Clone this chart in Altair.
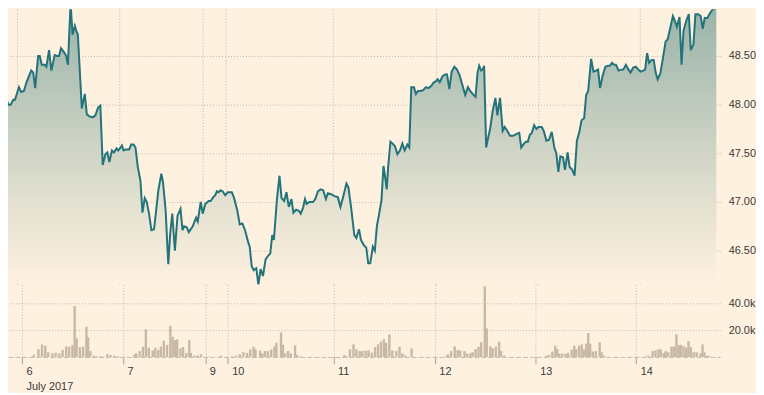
import json
import altair as alt
import pandas as pd

# ---------------- data (time axis in trading hours from chart start) ----------------
price_t = [0, 0.78, 1.40, 1.94, 2.49, 3.11, 3.50, 4.43, 4.97, 5.59, 6.21, 7.30, 7.77, 8.23, 8.93,
           9.32, 9.79, 10.49, 10.87, 11.50, 12.04, 12.82, 13.36, 13.83, 14.29, 15.15, 15.53, 15.92,
           16.54, 17.01, 17.55, 17.86, 18.25, 19.18, 19.88, 20.35, 20.97, 21.75, 22.37, 22.99, 23.53,
           24.08, 24.70, 25.17, 25.63, 26.25, 26.72, 27.34, 27.73, 28.12, 28.58, 28.97, 29.51, 30.29,
           30.76, 31.30, 31.77, 32.31, 32.93, 33.40, 33.94, 34.41, 34.95, 35.50, 36.12, 37.13, 37.83,
           38.21, 38.83, 39.46, 39.92, 40.39, 41.01, 41.63, 42.33, 42.80, 43.18, 43.81, 44.27,
           45.20, 45.98, 46.37, 47.07, 47.53, 48.15, 48.93, 49.40, 50.02, 50.48, 50.87, 51.26, 51.73,
           52.19, 52.81, 53.43, 54.37, 54.83, 55.61, 56.23, 56.85, 57.47, 58.25, 58.56, 59.03, 59.49,
           60.11, 60.58, 61.12, 61.67, 62.29, 62.91, 63.38, 63.84, 64.23, 64.93, 65.55, 66.02, 66.64,
           67.18, 67.73, 68.35, 68.81, 69.44, 70.06, 70.52, 71.07, 71.53, 71.92, 72.54, 73.40, 73.94,
           74.56, 75.18, 75.80, 76.43, 76.89, 77.67, 78.45, 79.22, 79.84, 80.46, 81.24, 81.71, 82.33,
           83.10, 83.57, 84.19, 84.66, 85.28, 85.90, 86.37, 86.83, 87.45, 87.92, 88.38, 88.93, 89.47,
           89.94, 90.25, 90.71, 91.03, 91.57, 92.11, 92.66, 93.20, 93.82, 94.37, 94.91, 95.53, 95.99,
           96.46, 97.08, 97.55, 98.02, 98.64, 99.26, 99.88, 100.50, 101.12, 101.74, 102.21, 102.68,
           103.14, 103.76, 104.38, 104.85, 105.39, 105.94, 106.56, 107.18, 107.80, 108.58, 109.12,
           109.74, 110.44, 111.07, 111.53, 112.00, 112.39, 112.85, 113.24, 113.55, 114.02, 114.48,
           114.95, 115.57, 116.19, 116.66, 117.28, 117.90, 118.37, 118.99, 119.61, 120.39, 121.16,
           121.78, 122.25, 122.72, 123.34, 123.80, 124.27, 124.74, 125.28, 125.82, 126.29, 127.07,
           127.53, 128.15, 128.77, 129.40, 130.02, 130.48, 130.96, 131.42, 132.04, 132.51, 133.13,
           133.60, 134.22, 134.76, 135.31, 135.93, 136.39, 137.01, 137.48, 137.95, 138.65, 139.19,
           139.81, 140.28, 140.74, 141.36, 141.98, 142.61, 143.07, 143.54, 144.01, 144.47, 145.09,
           145.71, 146.18, 146.80, 147.42, 147.89, 148.51, 149.13, 149.75, 150.22, 150.84, 151.31,
           151.77, 152.24, 152.86, 153.33, 153.79, 154.26, 154.88, 155.50, 156.12, 156.59, 157.21,
           157.83, 158.30, 158.76, 159.38, 159.85, 160.32, 160.94, 161.56, 162.02, 162.65, 163.11,
           163.73, 164.35, 164.82, 165.29, 165.91, 166.38, 167.00, 167.62, 168.01]

price_v = [48.24, 48.23, 48.07, 48.00, 48.00, 48.05, 48.05, 48.18, 48.13, 48.14, 48.23, 48.35, 48.33, 48.17, 48.50,
           48.50, 48.41, 48.41, 48.39, 48.56, 48.35, 48.51, 48.50, 48.50, 48.58, 48.53, 48.50, 48.41,
           49.04, 48.72, 48.81, 48.76, 48.72, 47.96, 48.11, 47.90, 47.88, 47.87, 47.89, 47.97, 47.99,
           47.38, 47.49, 47.51, 47.41, 47.53, 47.51, 47.55, 47.53, 47.55, 47.58, 47.53, 47.54, 47.54,
           47.59, 47.59, 47.56, 47.36, 47.22, 46.89, 47.04, 47.00, 46.88, 46.71, 46.72, 47.12, 47.29,
           47.21, 46.92, 46.36, 46.68, 46.88, 46.50, 46.86, 46.93, 46.71, 46.75, 46.74, 46.69,
           46.75, 46.84, 46.80, 47.00, 46.88, 46.98, 47.01, 47.01, 47.05, 47.07, 47.11, 47.10, 47.12,
           47.11, 47.07, 47.10, 47.10, 47.05, 46.92, 46.77, 46.78, 46.71, 46.58, 46.54, 46.34, 46.30,
           46.32, 46.15, 46.31, 46.24, 46.41, 46.45, 46.47, 46.66, 46.61, 47.02, 47.27, 47.04, 47.01,
           47.10, 46.95, 47.03, 46.89, 46.92, 46.91, 46.88, 46.94, 47.03, 46.98, 47.00, 47.00, 47.03,
           47.11, 47.13, 47.12, 47.03, 47.09, 47.08, 47.06, 47.05, 46.95, 47.05, 47.19, 47.15, 46.95,
           46.66, 46.63, 46.72, 46.61, 46.56, 46.53, 46.37, 46.37, 46.54, 46.50, 46.75, 46.88, 47.02,
           47.37, 47.28, 47.13, 47.36, 47.62, 47.60, 47.57, 47.49, 47.53, 47.60, 47.53, 47.59, 47.56,
           48.18, 48.18, 48.11, 48.14, 48.14, 48.15, 48.18, 48.17, 48.19, 48.23, 48.24, 48.26,
           48.23, 48.29, 48.31, 48.31, 48.16, 48.34, 48.39, 48.36, 48.30, 48.18, 48.10,
           48.18, 48.13, 48.10, 48.08, 48.33, 48.40, 48.35, 48.36, 48.40, 47.56, 47.66,
           47.75, 47.94, 48.07, 47.89, 48.07, 47.73, 47.77, 47.73, 47.68, 47.68, 47.70,
           47.71, 47.56, 47.59, 47.62, 47.62, 47.69, 47.71, 47.79, 47.75, 47.77, 47.77,
           47.73, 47.63, 47.64, 47.72, 47.56, 47.50, 47.31, 47.47, 47.46, 47.33, 47.51,
           47.36, 47.33, 47.27, 47.63, 47.73, 47.84, 47.86, 48.10, 48.14, 48.47, 48.34,
           48.35, 48.36, 48.17, 48.30, 48.39, 48.40, 48.40, 48.43, 48.41, 48.41, 48.35,
           48.36, 48.36, 48.41, 48.36, 48.33, 48.38, 48.39, 48.36, 48.34, 48.35, 48.36,
           48.53, 48.43, 48.46, 48.46, 48.33, 48.26, 48.32, 48.48, 48.65, 48.67, 48.79,
           48.91, 48.86, 48.80, 48.90, 48.41, 48.76, 48.86, 48.93, 48.56, 48.62, 48.93,
           48.93, 48.91, 48.78, 48.89, 48.89, 48.93, 48.97, 48.99, 48.99]

# volume bars per trading session (time, thousands of contracts)
vol_t_jul6 = [6.83, 7.92, 8.78, 9.55, 10.25, 11.26, 12.04, 12.89, 13.67, 14.52, 15.22, 16.0, 16.54, 17.01,
              17.79, 18.56, 19.34, 19.73, 20.27, 21.13, 21.90, 22.76, 23.53, 24.31, 25.09, 26.02, 26.95]
vol_k_jul6 = [1.7, 5.7, 9.4, 8.4, 3.5, 2.7, 3.2, 2.7, 5.2, 7.9, 7.7, 8.9, 38.0, 13.8,
              7.2, 7.7, 22.5, 14.6, 4.4, 1.0, 0.5, 0.5, 0.25, 2.0, 1.5, 1.0, 0.5]
vol_t_jul7 = [30.68, 31.15, 32.0, 32.78, 33.48, 34.17, 35.11, 35.73, 36.43, 37.05, 37.75, 38.52, 39.30,
              39.84, 40.39, 40.93, 41.71, 42.33, 43.11, 43.81, 44.19, 45.05, 45.75, 46.60, 48.54, 51.34]
vol_k_jul7 = [1.5, 2.7, 4.4, 7.7, 20.7, 6.9, 4.9, 6.9, 5.2, 7.7, 12.1, 8.9, 23.2,
              15.1, 12.6, 13.1, 6.4, 7.4, 3.0, 12.8, 3.0, 1.0, 1.0, 2.0, 0.3, 1.0]
vol_t_jul10 = [53.9, 54.99, 55.84, 56.70, 57.55, 58.3, 59.10, 59.57, 60.66, 61.20, 61.82, 62.52, 63.30,
               64.08, 64.54, 65.63, 66.09, 66.64, 67.34, 67.96, 68.97, 69.43, 70.21]
vol_k_jul10 = [0.5, 1.0, 2.0, 3.5, 3.0, 5.6, 7.7, 5.7, 4.7, 2.7, 4.4, 4.4, 5.7,
               7.9, 10.6, 18.3, 9.1, 2.7, 4.4, 2.7, 8.6, 1.5, 0.5]
vol_t_jul11 = [80.70, 81.24, 82.02, 82.87, 83.57, 84.35, 84.97, 85.74, 86.44, 87.22, 88.0, 88.70, 89.40,
               90.09, 90.64, 91.41, 92.11, 93.05, 93.82, 94.52, 95.14, 96.69]
vol_k_jul11 = [1.5, 0.5, 5.7, 9.4, 5.7, 4.4, 4.4, 4.7, 4.9, 3.2, 7.4, 9.4, 11.4,
               13.3, 10.6, 16.8, 4.9, 4.4, 7.7, 2.7, 1.0, 6.4]
vol_t_jul12 = [104.77, 105.32, 106.09, 106.95, 107.65, 108.27, 109.28, 109.90, 110.68, 111.22, 111.92,
               112.62, 113.24, 114.10, 114.56, 115.42, 115.96, 116.73, 117.51, 117.98, 118.67]
vol_k_jul12 = [0.7, 2.0, 4.4, 7.9, 5.2, 4.9, 4.4, 2.5, 2.7, 3.5, 5.9,
               7.7, 11.1, 52.6, 21.2, 7.9, 6.4, 7.7, 11.4, 4.4, 1.0]
vol_t_jul13 = [128.77, 129.39, 130.17, 130.87, 131.33, 131.80, 132.50, 133.28, 133.90, 134.75, 135.37,
               135.84, 136.54, 137.16, 137.70, 138.25, 138.71, 139.18, 139.80, 140.50, 141.43, 141.90, 142.52]
vol_k_jul13 = [1.0, 1.5, 4.0, 8.4, 5.9, 2.5, 2.5, 2.5, 3.0, 5.4, 8.4,
               5.9, 8.4, 9.4, 5.7, 9.9, 17.8, 9.9, 4.0, 4.4, 10.9, 3.5, 1.0]
vol_t_jul14 = [152.46, 153.0, 154.01, 154.71, 155.41, 155.96, 156.66, 157.12, 157.74, 158.52, 159.06,
               159.68, 160.23, 160.77, 161.39, 162.02, 162.56, 163.10, 163.80, 164.50, 165.43, 165.90,
               166.36, 167.06, 167.61]
vol_k_jul14 = [0.5, 1.0, 4.4, 4.9, 5.7, 5.7, 3.0, 4.4, 3.5, 7.7, 7.7,
               16.8, 8.9, 9.1, 8.1, 6.9, 11.9, 7.4, 3.5, 3.5, 2.7, 9.4,
               3.5, 1.0, 0.7]

day_ticks = [4.03, 28.03, 47.60, 52.96, 78.13, 102.22, 126.22, 150.13]
day_labels = ["6", "7", "9", "10", "11", "12", "13", "14"]
month_label = "July 2017"
price_ticks = [46.5, 47.0, 47.5, 48.0, 48.5]
vol_ticks = [20000, 40000]

x_domain = [1.864, 168.93]
price_domain = [46.153, 48.98]
vol_domain = [0, 54070]

# ---------------- frames ----------------
price_df = pd.DataFrame({"t": price_t, "price": price_v})
vol_t = vol_t_jul6 + vol_t_jul7 + vol_t_jul10 + vol_t_jul11 + vol_t_jul12 + vol_t_jul13 + vol_t_jul14
vol_k = vol_k_jul6 + vol_k_jul7 + vol_k_jul10 + vol_k_jul11 + vol_k_jul12 + vol_k_jul13 + vol_k_jul14
vol_df = pd.DataFrame({"t": vol_t, "volume": [v * 1000 for v in vol_k]})

BG = "#fff1e0"
GRID = "#bdb3a7"
TEXT = "#3a3936"
FONT = "Liberation Sans"

labels_js = [json.dumps([day_labels[0], month_label])] + [json.dumps(s) for s in day_labels[1:]]
x_label_expr = "[" + ",".join(labels_js) + "][indexof(" + json.dumps(day_ticks) + ", datum.value)]"

x_scale = alt.Scale(domain=x_domain, nice=False, zero=False)

top_x_axis = alt.Axis(values=day_ticks, grid=True, gridDash=[1, 2], gridColor=GRID,
                      labels=False, ticks=False, domain=False, title=None)
price_axis = alt.Axis(orient="right", values=price_ticks, format=".2f", grid=True,
                      gridDash=[1, 2], gridColor=GRID, ticks=False, domain=False,
                      labelPadding=8, labelFontSize=11, labelColor=TEXT, labelFont=FONT, title=None)

gradient = alt.Gradient(
    gradient="linear",
    stops=[alt.GradientStop(color="#98b2a9", offset=0),
           alt.GradientStop(color="#e2e0d0", offset=0.7),
           alt.GradientStop(color=BG, offset=1)],
    x1=1, x2=1, y1=0, y2=1,
)

area = alt.Chart(price_df).mark_area(clip=True, color=gradient).encode(
    x=alt.X("t:Q", scale=x_scale, axis=top_x_axis),
    y=alt.Y("price:Q", scale=alt.Scale(domain=price_domain, nice=False, zero=False), axis=price_axis),
    y2=alt.datum(price_domain[0]),
)
line = alt.Chart(price_df).mark_line(clip=True, color="#22737a", strokeWidth=2).encode(
    x=alt.X("t:Q", scale=x_scale),
    y=alt.Y("price:Q"),
)
top = alt.layer(area, line).properties(width=717, height=277)

bottom_x_axis = alt.Axis(values=day_ticks, grid=True, gridDash=[1, 2], gridColor=GRID,
                         ticks=True, tickSize=7, tickColor="#a9a095", domain=True,
                         domainColor="#c4bbb0", domainDash=[5, 2],
                         labelExpr=x_label_expr, labelAlign="left", labelOffset=4,
                         labelBaseline="top", labelPadding=2, labelFontSize=11,
                         labelLineHeight=15, labelColor=TEXT, labelFont=FONT, title=None)
vol_axis = alt.Axis(orient="right", values=vol_ticks,
                    labelExpr="format(datum.value / 1000, '.1f') + 'k'", grid=True,
                    gridDash=[1, 2], gridColor=GRID, ticks=False, domain=False,
                    labelPadding=8, labelFontSize=11, labelColor=TEXT, labelFont=FONT, title=None)

bars = alt.Chart(vol_df).mark_bar(color="#c8b8a5", size=2.4).encode(
    x=alt.X("t:Q", scale=x_scale, axis=bottom_x_axis),
    y=alt.Y("volume:Q", scale=alt.Scale(domain=vol_domain, nice=False), axis=vol_axis),
).properties(width=717, height=73)

chart = alt.vconcat(top, bars, spacing=0).properties(
    padding=0, background=BG
).configure_view(stroke=None)

chart.save("out.html", embed_options={"renderer": "svg", "actions": False})
